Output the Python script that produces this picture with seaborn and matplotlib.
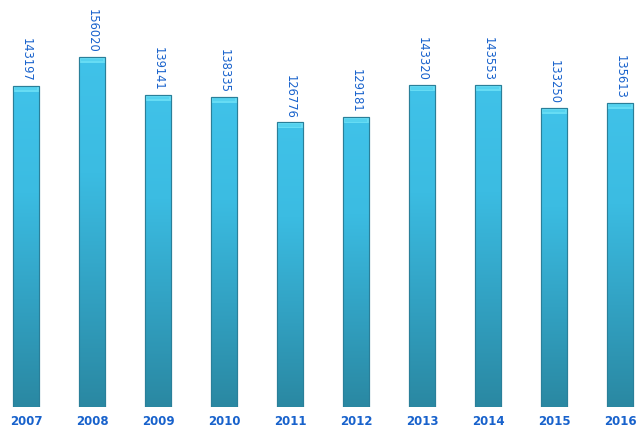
import matplotlib
matplotlib.use("Agg")
import matplotlib.pyplot as plt
import seaborn as sns
import numpy as np
import pandas as pd
from matplotlib.colors import LinearSegmentedColormap

years = ["2007", "2008", "2009", "2010", "2011", "2012", "2013", "2014", "2015", "2016"]
values = [143197, 156020, 139141, 138335, 126776, 129181, 143320, 143553, 133250, 135613]

df = pd.DataFrame({"year": years, "value": values})

sns.set_theme(style="white")
plt.rcParams['font.family'] = ['DejaVu Sans']

fig = plt.figure(figsize=(6.4, 4.35), dpi=100)
ax = fig.add_axes([0, 27/435, 1, 408/435])

sns.barplot(data=df, x="year", y="value", color="#3bbbe0", width=0.4,
            edgecolor="#2a7f99", linewidth=0.8, ax=ax)

ax.set_xlim(-26/66, (640-26)/66)
ax.set_ylim(0, 408*445.6)

px = 445.6
cmap = LinearSegmentedColormap.from_list("g", ["#2a88a2", "#32a2c3", "#3bbce2", "#40c2e9"])
grad = np.linspace(0, 1, 256).reshape(-1, 1)
for p in ax.patches:
    x0, y0 = p.get_x(), p.get_y()
    w, h = p.get_width(), p.get_height()
    z = p.get_zorder()
    im = ax.imshow(grad, cmap=cmap, origin="lower", aspect="auto",
                   extent=[x0, x0 + w, y0, y0 + h], zorder=z + 0.1)
    im.set_clip_path(p)
    # top cap (bevel)
    cap_h = 6 * px
    ax.add_patch(plt.Rectangle((x0, y0 + h - cap_h), w, cap_h,
                               facecolor="#66dcf4", edgecolor="none", zorder=z + 0.2))
    ax.add_patch(plt.Rectangle((x0 + w*0.08, y0 + h - cap_h*0.75), w*0.84, cap_h*0.45,
                               facecolor="#55d2ef", edgecolor="none", zorder=z + 0.25))
    ax.add_patch(plt.Rectangle((x0, y0), w, h, facecolor="none",
                               edgecolor="#2a7f99", linewidth=0.8, zorder=z + 0.3))

for i, v in enumerate(values):
    ax.text(i, v + 5*px, f"{v}", rotation=270, ha="center", va="bottom",
            color="#1862cc", fontsize=8.3)

for s in ax.spines.values():
    s.set_visible(False)
ax.set_xlabel("")
ax.set_ylabel("")
ax.set_yticks([])
ax.tick_params(axis="x", length=0, pad=5)
for lbl in ax.get_xticklabels():
    lbl.set_color("#1862cc")
    lbl.set_fontweight("bold")
    lbl.set_fontsize(8.5)

fig.savefig("out.png", dpi=100)
